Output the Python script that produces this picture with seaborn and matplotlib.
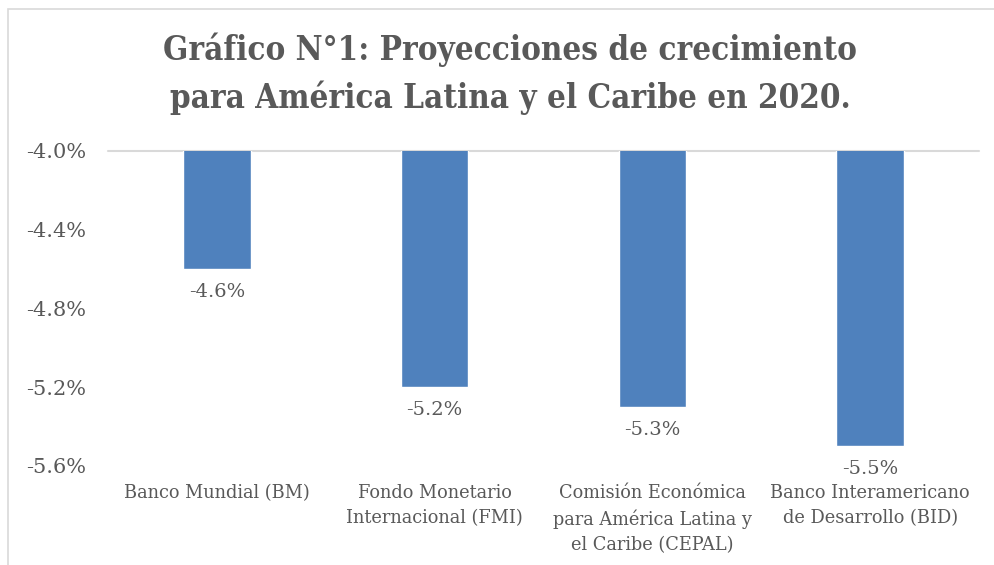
import matplotlib
matplotlib.use("Agg")
import matplotlib.pyplot as plt
import seaborn as sns
import pandas as pd
from matplotlib.patches import Rectangle

categories = ["Banco Mundial (BM)",
              "Fondo Monetario\nInternacional (FMI)",
              "Comisión Económica\npara América Latina y\nel Caribe (CEPAL)",
              "Banco Interamericano\nde Desarrollo (BID)"]
values = [-4.6, -5.2, -5.3, -5.5]
value_labels = ["-4.6%", "-5.2%", "-5.3%", "-5.5%"]
yticks = [-4.0, -4.4, -4.8, -5.2, -5.6]
ytick_labels = ["-4.0%", "-4.4%", "-4.8%", "-5.2%", "-5.6%"]
title = "Gráfico N°1: Proyecciones de crecimiento\npara América Latina y el Caribe en 2020."

sns.set_theme(style="white")
plt.rcParams['font.family'] = ['DejaVu Serif', 'DejaVu Sans']

TXT = "#595959"
W, H = 994, 565
fig = plt.figure(figsize=(W / 100, H / 100), dpi=100)
ax = fig.add_axes([108 / W, 1 - 466 / H, (979 - 108) / W, (466 - 151) / H])

df = pd.DataFrame({"cat": categories, "val": values})
sns.barplot(data=df, x="cat", y="val", color="#4F81BD", saturation=1,
            width=0.31, ax=ax)

ax.set_ylim(-5.6, -4.0)
ax.set_yticks(yticks)
ax.set_yticklabels(ytick_labels, fontsize=15, color=TXT)
ax.tick_params(axis="y", length=0, pad=16)
ax.tick_params(axis="x", length=0, pad=13)
for lbl in ax.get_xticklabels():
    lbl.set_fontsize(12.8)
    lbl.set_color(TXT)
    lbl.set_verticalalignment("top")
    lbl.set_linespacing(1.5)
ax.set_xlabel("")
ax.set_ylabel("")
for s in ax.spines.values():
    s.set_visible(False)
ax.axhline(-4.0, color="#D9D9D9", lw=1.5, zorder=0, clip_on=False)

for i, (v, t) in enumerate(zip(values, value_labels)):
    ax.annotate(t, (i, v), xytext=(0, -10), textcoords="offset points",
                ha="center", va="top", fontsize=14, color=TXT)

fig.text(510 / W, 1 - 74 / H, title, ha="center", va="center",
         fontsize=23.8, fontweight="bold", fontstretch="condensed",
         color=TXT, linespacing=1.5)

fig.patches.append(Rectangle((8 / W, -0.1), 1.0, (H - 9) / H + 0.1,
                             transform=fig.transFigure, fill=False,
                             edgecolor="#D9D9D9", lw=1.2))

fig.savefig("out.png", dpi=100, facecolor="white")
